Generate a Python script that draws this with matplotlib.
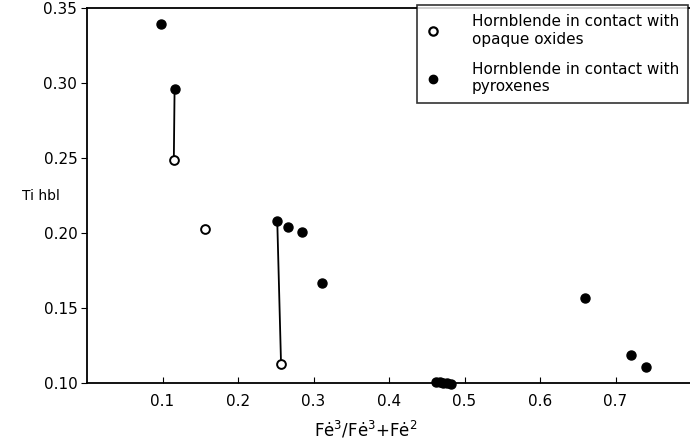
import matplotlib
matplotlib.use("Agg")
import matplotlib.pyplot as plt
from matplotlib.lines import Line2D

# Data
opaque_x = [0.115, 0.156, 0.257]
opaque_y = [0.249, 0.203, 0.113]

pyrox_x = [0.098, 0.116, 0.252, 0.266, 0.285, 0.311, 0.660, 0.720, 0.741,
           0.462, 0.467, 0.472, 0.477, 0.482]
pyrox_y = [0.339, 0.296, 0.208, 0.204, 0.201, 0.167, 0.157, 0.119, 0.111,
           0.1005, 0.1005, 0.100, 0.100, 0.0995]

# tie lines between coexisting analyses
tie_x = [[0.116, 0.115], [0.252, 0.257]]
tie_y = [[0.296, 0.249], [0.208, 0.113]]

x_ticks = [0.1, 0.2, 0.3, 0.4, 0.5, 0.6, 0.7]
y_ticks = [0.10, 0.15, 0.20, 0.25, 0.30, 0.35]

fig = plt.figure(figsize=(6.9, 4.43), dpi=100)
ax = fig.add_axes([87/690, 60/443, 604/690, 375/443])

for xs, ys in zip(tie_x, tie_y):
    ax.plot(xs, ys, color="black", lw=1.3, zorder=1)

ax.plot(pyrox_x, pyrox_y, "o", color="black", ms=6.5, ls="none", zorder=3, clip_on=False)
ax.plot(opaque_x, opaque_y, "o", mfc="white", mec="black", mew=1.4, ms=6.3, ls="none", zorder=3)

ax.set_xlim(0, 0.8)
ax.set_ylim(0.10, 0.35)
ax.set_xticks(x_ticks)
ax.set_xticklabels([f"{v:.1f}" for v in x_ticks])
ax.set_yticks(y_ticks)
ax.set_yticklabels([f"{v:.2f}" for v in y_ticks])
ax.tick_params(axis="x", direction="in", length=4, labelsize=11, pad=8)
ax.tick_params(axis="y", direction="out", length=4, labelsize=11, pad=3)
for s in ["left", "bottom", "top"]:
    ax.spines[s].set_linewidth(1.3)
ax.spines["right"].set_visible(False)

ax.set_xlabel("Fė$^3$/Fė$^3$+Fė$^2$", fontsize=12)
ax.xaxis.set_label_coords((366 - 87) / 604, -36 / 375)
fig.text(22/690, 1 - 196/443, "Ti hbl", fontsize=10, ha="left", va="center")

handles = [
    Line2D([], [], marker="o", ls="none", mfc="white", mec="black", mew=1.6, ms=6),
    Line2D([], [], marker="o", ls="none", color="black", ms=6),
]
labels = ["Hornblende in contact with\nopaque oxides",
          "Hornblende in contact with\npyroxenes"]
leg = fig.legend(handles, labels, loc="upper right",
                 bbox_to_anchor=(688/690, 1 - 5/443), fontsize=11,
                 frameon=True, fancybox=False, edgecolor="black",
                 borderpad=0.6, labelspacing=1.0, handletextpad=2.0,
                 handlelength=1.0, borderaxespad=0)
leg.get_frame().set_linewidth(1.2)

fig.savefig("out.png", dpi=100)
